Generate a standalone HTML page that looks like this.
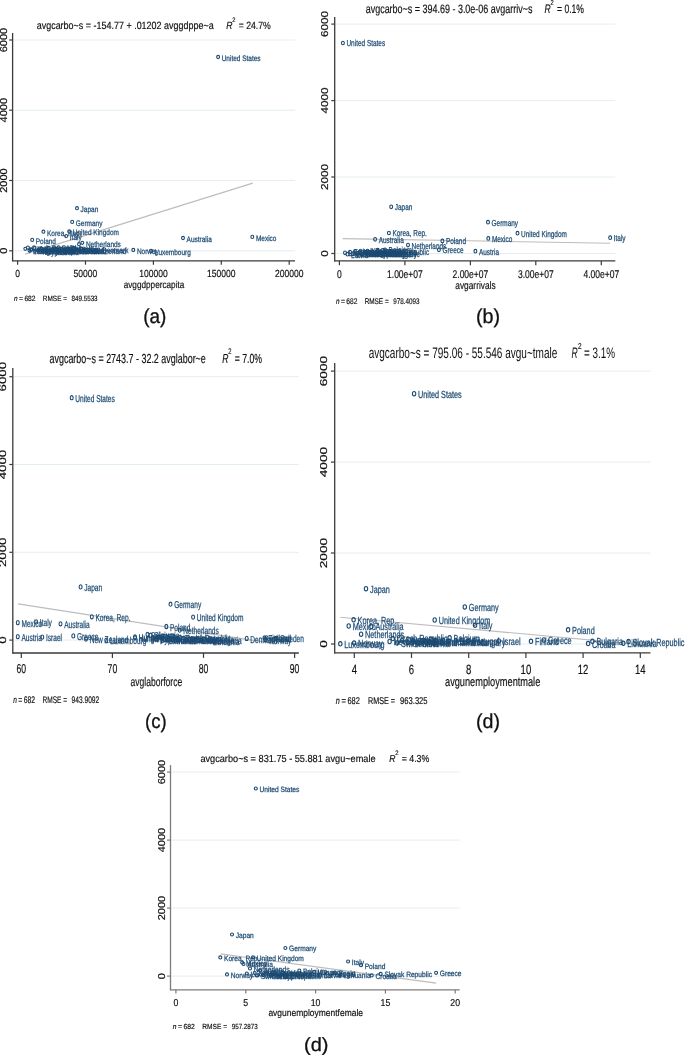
<!DOCTYPE html>
<html><head><meta charset="utf-8"><title>Scatter plots</title>
<style>
html,body{margin:0;padding:0;background:#fff;}
body{width:685px;height:1055px;overflow:hidden;}
svg{display:block;font-family:"Liberation Sans", sans-serif;filter:blur(0.35px);}
</style></head><body>
<svg width="685" height="1055" viewBox="0 0 685 1055" text-rendering="geometricPrecision">
<rect width="685" height="1055" fill="#fff"/>
<line x1="13.10" y1="40.00" x2="295.00" y2="40.00" stroke="#e4eef0" stroke-width="1"/>
<line x1="13.10" y1="110.20" x2="295.00" y2="110.20" stroke="#e4eef0" stroke-width="1"/>
<line x1="13.10" y1="180.50" x2="295.00" y2="180.50" stroke="#e4eef0" stroke-width="1"/>
<line x1="13.10" y1="250.80" x2="295.00" y2="250.80" stroke="#e4eef0" stroke-width="1"/>
<line x1="25.20" y1="254.10" x2="252.80" y2="183.10" stroke="#bdbdbd" stroke-width="1.1"/>
<line x1="12.60" y1="33.00" x2="12.60" y2="261.30" stroke="#3a3a3a" stroke-width="1.3"/>
<line x1="12.10" y1="260.80" x2="295.00" y2="260.80" stroke="#3a3a3a" stroke-width="1.3"/>
<line x1="9.20" y1="40.00" x2="12.60" y2="40.00" stroke="#3a3a3a" stroke-width="1.2"/>
<text transform="translate(7.00,40.00) rotate(-90)" x="-12.25" y="0" font-size="10.0" fill="#111" stroke="#111" stroke-width="0.18" textLength="24.50" lengthAdjust="spacingAndGlyphs">6000</text>
<line x1="9.20" y1="110.20" x2="12.60" y2="110.20" stroke="#3a3a3a" stroke-width="1.2"/>
<text transform="translate(7.00,110.20) rotate(-90)" x="-12.25" y="0" font-size="10.0" fill="#111" stroke="#111" stroke-width="0.18" textLength="24.50" lengthAdjust="spacingAndGlyphs">4000</text>
<line x1="9.20" y1="180.50" x2="12.60" y2="180.50" stroke="#3a3a3a" stroke-width="1.2"/>
<text transform="translate(7.00,180.50) rotate(-90)" x="-12.25" y="0" font-size="10.0" fill="#111" stroke="#111" stroke-width="0.18" textLength="24.50" lengthAdjust="spacingAndGlyphs">2000</text>
<line x1="9.20" y1="250.80" x2="12.60" y2="250.80" stroke="#3a3a3a" stroke-width="1.2"/>
<text transform="translate(7.00,250.80) rotate(-90)" x="-3.06" y="0" font-size="10.0" fill="#111" stroke="#111" stroke-width="0.18" textLength="6.12" lengthAdjust="spacingAndGlyphs">0</text>
<line x1="17.60" y1="260.80" x2="17.60" y2="264.70" stroke="#3a3a3a" stroke-width="1.2"/>
<text x="15.22" y="277.30" font-size="10.3" fill="#111" textLength="4.75" lengthAdjust="spacingAndGlyphs" stroke="#111" stroke-width="0.18">0</text>
<line x1="85.50" y1="260.80" x2="85.50" y2="264.70" stroke="#3a3a3a" stroke-width="1.2"/>
<text x="73.61" y="277.30" font-size="10.3" fill="#111" textLength="23.77" lengthAdjust="spacingAndGlyphs" stroke="#111" stroke-width="0.18">50000</text>
<line x1="153.40" y1="260.80" x2="153.40" y2="264.70" stroke="#3a3a3a" stroke-width="1.2"/>
<text x="139.14" y="277.30" font-size="10.3" fill="#111" textLength="28.53" lengthAdjust="spacingAndGlyphs" stroke="#111" stroke-width="0.18">100000</text>
<line x1="221.30" y1="260.80" x2="221.30" y2="264.70" stroke="#3a3a3a" stroke-width="1.2"/>
<text x="207.04" y="277.30" font-size="10.3" fill="#111" textLength="28.53" lengthAdjust="spacingAndGlyphs" stroke="#111" stroke-width="0.18">150000</text>
<line x1="289.20" y1="260.80" x2="289.20" y2="264.70" stroke="#3a3a3a" stroke-width="1.2"/>
<text x="274.94" y="277.30" font-size="10.3" fill="#111" textLength="28.53" lengthAdjust="spacingAndGlyphs" stroke="#111" stroke-width="0.18">200000</text>
<text x="123.70" y="287.60" font-size="10.0" fill="#111" textLength="60.60" lengthAdjust="spacingAndGlyphs" stroke="#111" stroke-width="0.18">avggdppercapita</text>
<text x="14.00" y="301.20" font-size="7.6" fill="#111" font-style="italic" textLength="3.60" lengthAdjust="spacingAndGlyphs" stroke="#111" stroke-width="0.18">n</text>
<text x="19.00" y="301.20" font-size="7.6" fill="#111" textLength="4.00" lengthAdjust="spacingAndGlyphs" stroke="#111" stroke-width="0.18">=</text>
<text x="24.40" y="301.20" font-size="7.6" fill="#111" textLength="11.10" lengthAdjust="spacingAndGlyphs" stroke="#111" stroke-width="0.18">682</text>
<text x="42.80" y="301.20" font-size="7.6" fill="#111" textLength="24.20" lengthAdjust="spacingAndGlyphs" stroke="#111" stroke-width="0.18">RMSE =</text>
<text x="71.50" y="301.20" font-size="7.6" fill="#111" textLength="26.10" lengthAdjust="spacingAndGlyphs" stroke="#111" stroke-width="0.18">849.5533</text>
<text x="36.70" y="29.40" font-size="10.5" fill="#111" textLength="177.00" lengthAdjust="spacingAndGlyphs" stroke="#111" stroke-width="0.18">avgcarbo~s = -154.77 + .01202 avggdppe~a</text>
<text x="226.20" y="29.40" font-size="10.5" fill="#111" font-style="italic" textLength="6.20" lengthAdjust="spacingAndGlyphs" stroke="#111" stroke-width="0.18">R</text>
<text x="232.20" y="22.40" font-size="6.6" fill="#111" textLength="3.20" lengthAdjust="spacingAndGlyphs" stroke="#111" stroke-width="0.18">2</text>
<text x="238.70" y="29.40" font-size="10.5" fill="#111" textLength="32.00" lengthAdjust="spacingAndGlyphs" stroke="#111" stroke-width="0.18">= 24.7%</text>
<text x="143.20" y="322.80" font-size="20" fill="#111" textLength="23.20" lengthAdjust="spacingAndGlyphs" stroke="#111" stroke-width="0.3">(a)</text>
<ellipse cx="218.10" cy="57.00" rx="1.45" ry="1.60" fill="none" stroke="#1c4a72" stroke-width="1.1"/>
<text x="221.70" y="60.82" font-size="8.0" fill="#1c4a72" textLength="38.90" lengthAdjust="spacingAndGlyphs" stroke="#1c4a72" stroke-width="0.25">United States</text>
<ellipse cx="77.00" cy="208.20" rx="1.45" ry="1.60" fill="none" stroke="#1c4a72" stroke-width="1.1"/>
<text x="80.60" y="212.02" font-size="8.0" fill="#1c4a72" textLength="17.66" lengthAdjust="spacingAndGlyphs" stroke="#1c4a72" stroke-width="0.25">Japan</text>
<ellipse cx="72.20" cy="221.90" rx="1.45" ry="1.60" fill="none" stroke="#1c4a72" stroke-width="1.1"/>
<text x="75.80" y="225.72" font-size="8.0" fill="#1c4a72" textLength="26.65" lengthAdjust="spacingAndGlyphs" stroke="#1c4a72" stroke-width="0.25">Germany</text>
<ellipse cx="43.40" cy="231.70" rx="1.45" ry="1.60" fill="none" stroke="#1c4a72" stroke-width="1.1"/>
<text x="47.00" y="235.52" font-size="8.0" fill="#1c4a72" textLength="34.58" lengthAdjust="spacingAndGlyphs" stroke="#1c4a72" stroke-width="0.25">Korea, Rep.</text>
<ellipse cx="69.20" cy="231.40" rx="1.45" ry="1.60" fill="none" stroke="#1c4a72" stroke-width="1.1"/>
<text x="72.80" y="235.22" font-size="8.0" fill="#1c4a72" textLength="46.11" lengthAdjust="spacingAndGlyphs" stroke="#1c4a72" stroke-width="0.25">United Kingdom</text>
<ellipse cx="66.20" cy="236.10" rx="1.45" ry="1.60" fill="none" stroke="#1c4a72" stroke-width="1.1"/>
<text x="69.80" y="239.92" font-size="8.0" fill="#1c4a72" textLength="11.88" lengthAdjust="spacingAndGlyphs" stroke="#1c4a72" stroke-width="0.25">Italy</text>
<ellipse cx="32.20" cy="239.90" rx="1.45" ry="1.60" fill="none" stroke="#1c4a72" stroke-width="1.1"/>
<text x="35.80" y="243.72" font-size="8.0" fill="#1c4a72" textLength="20.18" lengthAdjust="spacingAndGlyphs" stroke="#1c4a72" stroke-width="0.25">Poland</text>
<ellipse cx="82.30" cy="242.80" rx="1.45" ry="1.60" fill="none" stroke="#1c4a72" stroke-width="1.1"/>
<text x="85.90" y="246.62" font-size="8.0" fill="#1c4a72" textLength="34.94" lengthAdjust="spacingAndGlyphs" stroke="#1c4a72" stroke-width="0.25">Netherlands</text>
<ellipse cx="183.00" cy="238.00" rx="1.45" ry="1.60" fill="none" stroke="#1c4a72" stroke-width="1.1"/>
<text x="186.60" y="241.82" font-size="8.0" fill="#1c4a72" textLength="25.21" lengthAdjust="spacingAndGlyphs" stroke="#1c4a72" stroke-width="0.25">Australia</text>
<ellipse cx="252.30" cy="236.90" rx="1.45" ry="1.60" fill="none" stroke="#1c4a72" stroke-width="1.1"/>
<text x="255.90" y="240.72" font-size="8.0" fill="#1c4a72" textLength="20.53" lengthAdjust="spacingAndGlyphs" stroke="#1c4a72" stroke-width="0.25">Mexico</text>
<ellipse cx="133.30" cy="250.00" rx="1.45" ry="1.60" fill="none" stroke="#1c4a72" stroke-width="1.1"/>
<text x="136.90" y="253.82" font-size="8.0" fill="#1c4a72" textLength="21.97" lengthAdjust="spacingAndGlyphs" stroke="#1c4a72" stroke-width="0.25">Norway</text>
<ellipse cx="151.20" cy="251.00" rx="1.45" ry="1.60" fill="none" stroke="#1c4a72" stroke-width="1.1"/>
<text x="154.80" y="254.82" font-size="8.0" fill="#1c4a72" textLength="36.02" lengthAdjust="spacingAndGlyphs" stroke="#1c4a72" stroke-width="0.25">Luxembourg</text>
<ellipse cx="25.30" cy="248.80" rx="1.45" ry="1.60" fill="none" stroke="#1c4a72" stroke-width="1.1"/>
<text x="28.90" y="252.62" font-size="8.0" fill="#1c4a72" textLength="24.14" lengthAdjust="spacingAndGlyphs" stroke="#1c4a72" stroke-width="0.25">Portugal</text>
<ellipse cx="27.90" cy="247.60" rx="1.45" ry="1.60" fill="none" stroke="#1c4a72" stroke-width="1.1"/>
<text x="31.50" y="251.42" font-size="8.0" fill="#1c4a72" textLength="45.38" lengthAdjust="spacingAndGlyphs" stroke="#1c4a72" stroke-width="0.25">Czech Republic</text>
<ellipse cx="31.00" cy="249.80" rx="1.45" ry="1.60" fill="none" stroke="#1c4a72" stroke-width="1.1"/>
<text x="34.60" y="253.62" font-size="8.0" fill="#1c4a72" textLength="24.49" lengthAdjust="spacingAndGlyphs" stroke="#1c4a72" stroke-width="0.25">Hungary</text>
<ellipse cx="34.50" cy="248.20" rx="1.45" ry="1.60" fill="none" stroke="#1c4a72" stroke-width="1.1"/>
<text x="38.10" y="252.02" font-size="8.0" fill="#1c4a72" textLength="21.25" lengthAdjust="spacingAndGlyphs" stroke="#1c4a72" stroke-width="0.25">Greece</text>
<ellipse cx="38.00" cy="250.20" rx="1.45" ry="1.60" fill="none" stroke="#1c4a72" stroke-width="1.1"/>
<text x="41.60" y="254.02" font-size="8.0" fill="#1c4a72" textLength="46.46" lengthAdjust="spacingAndGlyphs" stroke="#1c4a72" stroke-width="0.25">Slovak Republic</text>
<ellipse cx="41.50" cy="248.60" rx="1.45" ry="1.60" fill="none" stroke="#1c4a72" stroke-width="1.1"/>
<text x="45.10" y="252.42" font-size="8.0" fill="#1c4a72" textLength="21.61" lengthAdjust="spacingAndGlyphs" stroke="#1c4a72" stroke-width="0.25">Estonia</text>
<ellipse cx="45.00" cy="250.50" rx="1.45" ry="1.60" fill="none" stroke="#1c4a72" stroke-width="1.1"/>
<text x="48.60" y="254.32" font-size="8.0" fill="#1c4a72" textLength="26.30" lengthAdjust="spacingAndGlyphs" stroke="#1c4a72" stroke-width="0.25">Lithuania</text>
<ellipse cx="48.50" cy="247.80" rx="1.45" ry="1.60" fill="none" stroke="#1c4a72" stroke-width="1.1"/>
<text x="52.10" y="251.62" font-size="8.0" fill="#1c4a72" textLength="24.86" lengthAdjust="spacingAndGlyphs" stroke="#1c4a72" stroke-width="0.25">Slovenia</text>
<ellipse cx="52.00" cy="249.80" rx="1.45" ry="1.60" fill="none" stroke="#1c4a72" stroke-width="1.1"/>
<text x="55.60" y="253.62" font-size="8.0" fill="#1c4a72" textLength="15.85" lengthAdjust="spacingAndGlyphs" stroke="#1c4a72" stroke-width="0.25">Israel</text>
<ellipse cx="55.50" cy="249.00" rx="1.45" ry="1.60" fill="none" stroke="#1c4a72" stroke-width="1.1"/>
<text x="59.10" y="252.82" font-size="8.0" fill="#1c4a72" textLength="16.57" lengthAdjust="spacingAndGlyphs" stroke="#1c4a72" stroke-width="0.25">Spain</text>
<ellipse cx="58.50" cy="247.40" rx="1.45" ry="1.60" fill="none" stroke="#1c4a72" stroke-width="1.1"/>
<text x="62.10" y="251.22" font-size="8.0" fill="#1c4a72" textLength="23.41" lengthAdjust="spacingAndGlyphs" stroke="#1c4a72" stroke-width="0.25">Belgium</text>
<ellipse cx="61.50" cy="249.60" rx="1.45" ry="1.60" fill="none" stroke="#1c4a72" stroke-width="1.1"/>
<text x="65.10" y="253.42" font-size="8.0" fill="#1c4a72" textLength="20.17" lengthAdjust="spacingAndGlyphs" stroke="#1c4a72" stroke-width="0.25">France</text>
<ellipse cx="64.50" cy="250.40" rx="1.45" ry="1.60" fill="none" stroke="#1c4a72" stroke-width="1.1"/>
<text x="68.10" y="254.22" font-size="8.0" fill="#1c4a72" textLength="38.18" lengthAdjust="spacingAndGlyphs" stroke="#1c4a72" stroke-width="0.25">New Zealand</text>
<ellipse cx="67.50" cy="248.60" rx="1.45" ry="1.60" fill="none" stroke="#1c4a72" stroke-width="1.1"/>
<text x="71.10" y="252.42" font-size="8.0" fill="#1c4a72" textLength="21.25" lengthAdjust="spacingAndGlyphs" stroke="#1c4a72" stroke-width="0.25">Finland</text>
<ellipse cx="70.50" cy="249.80" rx="1.45" ry="1.60" fill="none" stroke="#1c4a72" stroke-width="1.1"/>
<text x="74.10" y="253.62" font-size="8.0" fill="#1c4a72" textLength="22.70" lengthAdjust="spacingAndGlyphs" stroke="#1c4a72" stroke-width="0.25">Canada</text>
<ellipse cx="74.00" cy="248.20" rx="1.45" ry="1.60" fill="none" stroke="#1c4a72" stroke-width="1.1"/>
<text x="77.60" y="252.02" font-size="8.0" fill="#1c4a72" textLength="20.17" lengthAdjust="spacingAndGlyphs" stroke="#1c4a72" stroke-width="0.25">Austria</text>
<ellipse cx="77.00" cy="250.00" rx="1.45" ry="1.60" fill="none" stroke="#1c4a72" stroke-width="1.1"/>
<text x="80.60" y="253.82" font-size="8.0" fill="#1c4a72" textLength="23.42" lengthAdjust="spacingAndGlyphs" stroke="#1c4a72" stroke-width="0.25">Sweden</text>
<ellipse cx="79.00" cy="244.20" rx="1.45" ry="1.60" fill="none" stroke="#1c4a72" stroke-width="1.1"/>
<ellipse cx="81.00" cy="248.80" rx="1.45" ry="1.60" fill="none" stroke="#1c4a72" stroke-width="1.1"/>
<text x="84.60" y="252.62" font-size="8.0" fill="#1c4a72" textLength="19.81" lengthAdjust="spacingAndGlyphs" stroke="#1c4a72" stroke-width="0.25">Ireland</text>
<ellipse cx="89.00" cy="249.80" rx="1.45" ry="1.60" fill="none" stroke="#1c4a72" stroke-width="1.1"/>
<text x="92.60" y="253.62" font-size="8.0" fill="#1c4a72" textLength="33.50" lengthAdjust="spacingAndGlyphs" stroke="#1c4a72" stroke-width="0.25">Switzerland</text>
<ellipse cx="98.50" cy="249.60" rx="1.45" ry="1.60" fill="none" stroke="#1c4a72" stroke-width="1.1"/>
<text x="102.10" y="253.42" font-size="8.0" fill="#1c4a72" textLength="26.29" lengthAdjust="spacingAndGlyphs" stroke="#1c4a72" stroke-width="0.25">Denmark</text>
<ellipse cx="29.50" cy="250.60" rx="1.45" ry="1.60" fill="none" stroke="#1c4a72" stroke-width="1.1"/>
<text x="33.10" y="254.42" font-size="8.0" fill="#1c4a72" textLength="17.29" lengthAdjust="spacingAndGlyphs" stroke="#1c4a72" stroke-width="0.25">Latvia</text>
<ellipse cx="43.00" cy="250.80" rx="1.45" ry="1.60" fill="none" stroke="#1c4a72" stroke-width="1.1"/>
<text x="46.60" y="254.62" font-size="8.0" fill="#1c4a72" textLength="20.53" lengthAdjust="spacingAndGlyphs" stroke="#1c4a72" stroke-width="0.25">Cyprus</text>
<ellipse cx="54.00" cy="250.80" rx="1.45" ry="1.60" fill="none" stroke="#1c4a72" stroke-width="1.1"/>
<text x="57.60" y="254.62" font-size="8.0" fill="#1c4a72" textLength="20.89" lengthAdjust="spacingAndGlyphs" stroke="#1c4a72" stroke-width="0.25">Croatia</text>
<line x1="335.20" y1="24.10" x2="615.30" y2="24.10" stroke="#e4eef0" stroke-width="1"/>
<line x1="335.20" y1="100.60" x2="615.30" y2="100.60" stroke="#e4eef0" stroke-width="1"/>
<line x1="335.20" y1="177.00" x2="615.30" y2="177.00" stroke="#e4eef0" stroke-width="1"/>
<line x1="335.20" y1="253.50" x2="615.30" y2="253.50" stroke="#e4eef0" stroke-width="1"/>
<line x1="342.70" y1="238.60" x2="610.20" y2="243.30" stroke="#bdbdbd" stroke-width="1.1"/>
<line x1="334.70" y1="17.00" x2="334.70" y2="261.40" stroke="#3a3a3a" stroke-width="1.3"/>
<line x1="334.20" y1="260.90" x2="615.30" y2="260.90" stroke="#3a3a3a" stroke-width="1.3"/>
<line x1="331.32" y1="24.10" x2="334.70" y2="24.10" stroke="#3a3a3a" stroke-width="1.2"/>
<text transform="translate(328.00,24.10) rotate(-90)" x="-13.00" y="0" font-size="10.0" fill="#111" stroke="#111" stroke-width="0.18" textLength="26.00" lengthAdjust="spacingAndGlyphs">6000</text>
<line x1="331.32" y1="100.60" x2="334.70" y2="100.60" stroke="#3a3a3a" stroke-width="1.2"/>
<text transform="translate(328.00,100.60) rotate(-90)" x="-13.00" y="0" font-size="10.0" fill="#111" stroke="#111" stroke-width="0.18" textLength="26.00" lengthAdjust="spacingAndGlyphs">4000</text>
<line x1="331.32" y1="177.00" x2="334.70" y2="177.00" stroke="#3a3a3a" stroke-width="1.2"/>
<text transform="translate(328.00,177.00) rotate(-90)" x="-13.00" y="0" font-size="10.0" fill="#111" stroke="#111" stroke-width="0.18" textLength="26.00" lengthAdjust="spacingAndGlyphs">2000</text>
<line x1="331.32" y1="253.50" x2="334.70" y2="253.50" stroke="#3a3a3a" stroke-width="1.2"/>
<text transform="translate(328.00,253.50) rotate(-90)" x="-3.25" y="0" font-size="10.0" fill="#111" stroke="#111" stroke-width="0.18" textLength="6.50" lengthAdjust="spacingAndGlyphs">0</text>
<line x1="339.40" y1="260.90" x2="339.40" y2="265.14" stroke="#3a3a3a" stroke-width="1.2"/>
<text x="337.04" y="277.80" font-size="11.21" fill="#111" textLength="4.73" lengthAdjust="spacingAndGlyphs" stroke="#111" stroke-width="0.18">0</text>
<line x1="404.90" y1="260.90" x2="404.90" y2="265.14" stroke="#3a3a3a" stroke-width="1.2"/>
<text x="387.06" y="277.80" font-size="11.21" fill="#111" textLength="35.68" lengthAdjust="spacingAndGlyphs" stroke="#111" stroke-width="0.18">1.00e+07</text>
<line x1="470.40" y1="260.90" x2="470.40" y2="265.14" stroke="#3a3a3a" stroke-width="1.2"/>
<text x="452.56" y="277.80" font-size="11.21" fill="#111" textLength="35.68" lengthAdjust="spacingAndGlyphs" stroke="#111" stroke-width="0.18">2.00e+07</text>
<line x1="535.80" y1="260.90" x2="535.80" y2="265.14" stroke="#3a3a3a" stroke-width="1.2"/>
<text x="517.96" y="277.80" font-size="11.21" fill="#111" textLength="35.68" lengthAdjust="spacingAndGlyphs" stroke="#111" stroke-width="0.18">3.00e+07</text>
<line x1="601.30" y1="260.90" x2="601.30" y2="265.14" stroke="#3a3a3a" stroke-width="1.2"/>
<text x="583.46" y="277.80" font-size="11.21" fill="#111" textLength="35.68" lengthAdjust="spacingAndGlyphs" stroke="#111" stroke-width="0.18">4.00e+07</text>
<text x="455.30" y="288.80" font-size="10.88" fill="#111" textLength="40.30" lengthAdjust="spacingAndGlyphs" stroke="#111" stroke-width="0.18">avgarrivals</text>
<text x="336.00" y="303.50" font-size="8.27" fill="#111" font-style="italic" textLength="3.58" lengthAdjust="spacingAndGlyphs" stroke="#111" stroke-width="0.18">n</text>
<text x="340.97" y="303.50" font-size="8.27" fill="#111" textLength="3.98" lengthAdjust="spacingAndGlyphs" stroke="#111" stroke-width="0.18">=</text>
<text x="346.34" y="303.50" font-size="8.27" fill="#111" textLength="11.03" lengthAdjust="spacingAndGlyphs" stroke="#111" stroke-width="0.18">682</text>
<text x="364.63" y="303.50" font-size="8.27" fill="#111" textLength="24.05" lengthAdjust="spacingAndGlyphs" stroke="#111" stroke-width="0.18">RMSE =</text>
<text x="393.15" y="303.50" font-size="8.27" fill="#111" textLength="26.35" lengthAdjust="spacingAndGlyphs" stroke="#111" stroke-width="0.18">978.4093</text>
<text x="365.70" y="12.70" font-size="12.2" fill="#111" textLength="166.70" lengthAdjust="spacingAndGlyphs" stroke="#111" stroke-width="0.18">avgcarbo~s = 394.69 - 3.0e-06 avgarriv~s</text>
<text x="544.50" y="12.70" font-size="12.2" fill="#111" font-style="italic" textLength="6.20" lengthAdjust="spacingAndGlyphs" stroke="#111" stroke-width="0.18">R</text>
<text x="550.46" y="5.08" font-size="7.18" fill="#111" textLength="3.18" lengthAdjust="spacingAndGlyphs" stroke="#111" stroke-width="0.18">2</text>
<text x="557.00" y="12.70" font-size="12.2" fill="#111" textLength="27.00" lengthAdjust="spacingAndGlyphs" stroke="#111" stroke-width="0.18">= 0.1%</text>
<text x="476.00" y="323.00" font-size="20" fill="#111" textLength="24.10" lengthAdjust="spacingAndGlyphs" stroke="#111" stroke-width="0.3">(b)</text>
<ellipse cx="342.90" cy="43.00" rx="1.44" ry="1.78" fill="none" stroke="#1c4a72" stroke-width="1.1"/>
<text x="346.48" y="46.47" font-size="8.7" fill="#1c4a72" textLength="38.67" lengthAdjust="spacingAndGlyphs" stroke="#1c4a72" stroke-width="0.25">United States</text>
<ellipse cx="391.20" cy="206.80" rx="1.44" ry="1.78" fill="none" stroke="#1c4a72" stroke-width="1.1"/>
<text x="394.78" y="210.27" font-size="8.7" fill="#1c4a72" textLength="17.55" lengthAdjust="spacingAndGlyphs" stroke="#1c4a72" stroke-width="0.25">Japan</text>
<ellipse cx="388.90" cy="233.00" rx="1.44" ry="1.78" fill="none" stroke="#1c4a72" stroke-width="1.1"/>
<text x="392.48" y="236.47" font-size="8.7" fill="#1c4a72" textLength="34.37" lengthAdjust="spacingAndGlyphs" stroke="#1c4a72" stroke-width="0.25">Korea, Rep.</text>
<ellipse cx="375.10" cy="239.30" rx="1.44" ry="1.78" fill="none" stroke="#1c4a72" stroke-width="1.1"/>
<text x="378.68" y="242.77" font-size="8.7" fill="#1c4a72" textLength="25.06" lengthAdjust="spacingAndGlyphs" stroke="#1c4a72" stroke-width="0.25">Australia</text>
<ellipse cx="408.00" cy="245.10" rx="1.44" ry="1.78" fill="none" stroke="#1c4a72" stroke-width="1.1"/>
<text x="411.58" y="248.57" font-size="8.7" fill="#1c4a72" textLength="34.73" lengthAdjust="spacingAndGlyphs" stroke="#1c4a72" stroke-width="0.25">Netherlands</text>
<ellipse cx="442.40" cy="240.90" rx="1.44" ry="1.78" fill="none" stroke="#1c4a72" stroke-width="1.1"/>
<text x="445.98" y="244.37" font-size="8.7" fill="#1c4a72" textLength="20.06" lengthAdjust="spacingAndGlyphs" stroke="#1c4a72" stroke-width="0.25">Poland</text>
<ellipse cx="438.90" cy="249.80" rx="1.44" ry="1.78" fill="none" stroke="#1c4a72" stroke-width="1.1"/>
<text x="442.48" y="253.27" font-size="8.7" fill="#1c4a72" textLength="21.12" lengthAdjust="spacingAndGlyphs" stroke="#1c4a72" stroke-width="0.25">Greece</text>
<ellipse cx="475.40" cy="251.20" rx="1.44" ry="1.78" fill="none" stroke="#1c4a72" stroke-width="1.1"/>
<text x="478.98" y="254.67" font-size="8.7" fill="#1c4a72" textLength="20.05" lengthAdjust="spacingAndGlyphs" stroke="#1c4a72" stroke-width="0.25">Austria</text>
<ellipse cx="488.00" cy="222.20" rx="1.44" ry="1.78" fill="none" stroke="#1c4a72" stroke-width="1.1"/>
<text x="491.58" y="225.67" font-size="8.7" fill="#1c4a72" textLength="26.49" lengthAdjust="spacingAndGlyphs" stroke="#1c4a72" stroke-width="0.25">Germany</text>
<ellipse cx="488.30" cy="238.40" rx="1.44" ry="1.78" fill="none" stroke="#1c4a72" stroke-width="1.1"/>
<text x="491.88" y="241.87" font-size="8.7" fill="#1c4a72" textLength="20.40" lengthAdjust="spacingAndGlyphs" stroke="#1c4a72" stroke-width="0.25">Mexico</text>
<ellipse cx="517.50" cy="233.20" rx="1.44" ry="1.78" fill="none" stroke="#1c4a72" stroke-width="1.1"/>
<text x="521.08" y="236.67" font-size="8.7" fill="#1c4a72" textLength="45.83" lengthAdjust="spacingAndGlyphs" stroke="#1c4a72" stroke-width="0.25">United Kingdom</text>
<ellipse cx="610.20" cy="237.70" rx="1.44" ry="1.78" fill="none" stroke="#1c4a72" stroke-width="1.1"/>
<text x="613.78" y="241.17" font-size="8.7" fill="#1c4a72" textLength="11.81" lengthAdjust="spacingAndGlyphs" stroke="#1c4a72" stroke-width="0.25">Italy</text>
<ellipse cx="345.00" cy="252.80" rx="1.44" ry="1.78" fill="none" stroke="#1c4a72" stroke-width="1.1"/>
<text x="348.58" y="256.27" font-size="8.7" fill="#1c4a72" textLength="35.81" lengthAdjust="spacingAndGlyphs" stroke="#1c4a72" stroke-width="0.25">Luxembourg</text>
<ellipse cx="347.50" cy="254.20" rx="1.44" ry="1.78" fill="none" stroke="#1c4a72" stroke-width="1.1"/>
<text x="351.08" y="257.67" font-size="8.7" fill="#1c4a72" textLength="17.19" lengthAdjust="spacingAndGlyphs" stroke="#1c4a72" stroke-width="0.25">Latvia</text>
<ellipse cx="350.00" cy="252.00" rx="1.44" ry="1.78" fill="none" stroke="#1c4a72" stroke-width="1.1"/>
<text x="353.58" y="255.47" font-size="8.7" fill="#1c4a72" textLength="21.48" lengthAdjust="spacingAndGlyphs" stroke="#1c4a72" stroke-width="0.25">Estonia</text>
<ellipse cx="352.50" cy="253.80" rx="1.44" ry="1.78" fill="none" stroke="#1c4a72" stroke-width="1.1"/>
<text x="356.08" y="257.27" font-size="8.7" fill="#1c4a72" textLength="26.15" lengthAdjust="spacingAndGlyphs" stroke="#1c4a72" stroke-width="0.25">Lithuania</text>
<ellipse cx="355.00" cy="251.50" rx="1.44" ry="1.78" fill="none" stroke="#1c4a72" stroke-width="1.1"/>
<text x="358.58" y="254.97" font-size="8.7" fill="#1c4a72" textLength="24.71" lengthAdjust="spacingAndGlyphs" stroke="#1c4a72" stroke-width="0.25">Slovenia</text>
<ellipse cx="357.50" cy="253.20" rx="1.44" ry="1.78" fill="none" stroke="#1c4a72" stroke-width="1.1"/>
<text x="361.08" y="256.67" font-size="8.7" fill="#1c4a72" textLength="20.77" lengthAdjust="spacingAndGlyphs" stroke="#1c4a72" stroke-width="0.25">Iceland</text>
<ellipse cx="360.00" cy="251.80" rx="1.44" ry="1.78" fill="none" stroke="#1c4a72" stroke-width="1.1"/>
<text x="363.58" y="255.27" font-size="8.7" fill="#1c4a72" textLength="15.75" lengthAdjust="spacingAndGlyphs" stroke="#1c4a72" stroke-width="0.25">Israel</text>
<ellipse cx="362.50" cy="254.00" rx="1.44" ry="1.78" fill="none" stroke="#1c4a72" stroke-width="1.1"/>
<text x="366.08" y="257.47" font-size="8.7" fill="#1c4a72" textLength="37.95" lengthAdjust="spacingAndGlyphs" stroke="#1c4a72" stroke-width="0.25">New Zealand</text>
<ellipse cx="365.00" cy="252.20" rx="1.44" ry="1.78" fill="none" stroke="#1c4a72" stroke-width="1.1"/>
<text x="368.58" y="255.67" font-size="8.7" fill="#1c4a72" textLength="21.13" lengthAdjust="spacingAndGlyphs" stroke="#1c4a72" stroke-width="0.25">Finland</text>
<ellipse cx="367.50" cy="251.00" rx="1.44" ry="1.78" fill="none" stroke="#1c4a72" stroke-width="1.1"/>
<text x="371.08" y="254.47" font-size="8.7" fill="#1c4a72" textLength="21.83" lengthAdjust="spacingAndGlyphs" stroke="#1c4a72" stroke-width="0.25">Norway</text>
<ellipse cx="370.00" cy="253.20" rx="1.44" ry="1.78" fill="none" stroke="#1c4a72" stroke-width="1.1"/>
<text x="373.58" y="256.67" font-size="8.7" fill="#1c4a72" textLength="46.19" lengthAdjust="spacingAndGlyphs" stroke="#1c4a72" stroke-width="0.25">Slovak Republic</text>
<ellipse cx="372.50" cy="251.80" rx="1.44" ry="1.78" fill="none" stroke="#1c4a72" stroke-width="1.1"/>
<text x="376.08" y="255.27" font-size="8.7" fill="#1c4a72" textLength="19.69" lengthAdjust="spacingAndGlyphs" stroke="#1c4a72" stroke-width="0.25">Ireland</text>
<ellipse cx="375.00" cy="253.60" rx="1.44" ry="1.78" fill="none" stroke="#1c4a72" stroke-width="1.1"/>
<text x="378.58" y="257.07" font-size="8.7" fill="#1c4a72" textLength="20.40" lengthAdjust="spacingAndGlyphs" stroke="#1c4a72" stroke-width="0.25">Cyprus</text>
<ellipse cx="377.50" cy="250.20" rx="1.44" ry="1.78" fill="none" stroke="#1c4a72" stroke-width="1.1"/>
<text x="381.08" y="253.67" font-size="8.7" fill="#1c4a72" textLength="26.13" lengthAdjust="spacingAndGlyphs" stroke="#1c4a72" stroke-width="0.25">Denmark</text>
<ellipse cx="380.00" cy="252.20" rx="1.44" ry="1.78" fill="none" stroke="#1c4a72" stroke-width="1.1"/>
<text x="383.58" y="255.67" font-size="8.7" fill="#1c4a72" textLength="23.28" lengthAdjust="spacingAndGlyphs" stroke="#1c4a72" stroke-width="0.25">Sweden</text>
<ellipse cx="382.50" cy="254.00" rx="1.44" ry="1.78" fill="none" stroke="#1c4a72" stroke-width="1.1"/>
<text x="386.08" y="257.47" font-size="8.7" fill="#1c4a72" textLength="23.99" lengthAdjust="spacingAndGlyphs" stroke="#1c4a72" stroke-width="0.25">Portugal</text>
<ellipse cx="385.00" cy="249.80" rx="1.44" ry="1.78" fill="none" stroke="#1c4a72" stroke-width="1.1"/>
<text x="388.58" y="253.27" font-size="8.7" fill="#1c4a72" textLength="23.27" lengthAdjust="spacingAndGlyphs" stroke="#1c4a72" stroke-width="0.25">Belgium</text>
<ellipse cx="380.50" cy="252.00" rx="1.44" ry="1.78" fill="none" stroke="#1c4a72" stroke-width="1.1"/>
<text x="384.08" y="255.47" font-size="8.7" fill="#1c4a72" textLength="45.11" lengthAdjust="spacingAndGlyphs" stroke="#1c4a72" stroke-width="0.25">Czech Republic</text>
<ellipse cx="389.00" cy="253.60" rx="1.44" ry="1.78" fill="none" stroke="#1c4a72" stroke-width="1.1"/>
<text x="392.58" y="257.07" font-size="8.7" fill="#1c4a72" textLength="24.35" lengthAdjust="spacingAndGlyphs" stroke="#1c4a72" stroke-width="0.25">Hungary</text>
<ellipse cx="391.00" cy="251.20" rx="1.44" ry="1.78" fill="none" stroke="#1c4a72" stroke-width="1.1"/>
<text x="394.58" y="254.67" font-size="8.7" fill="#1c4a72" textLength="22.56" lengthAdjust="spacingAndGlyphs" stroke="#1c4a72" stroke-width="0.25">Canada</text>
<line x1="13.30" y1="376.70" x2="298.80" y2="376.70" stroke="#e4eef0" stroke-width="1"/>
<line x1="13.30" y1="464.50" x2="298.80" y2="464.50" stroke="#e4eef0" stroke-width="1"/>
<line x1="13.30" y1="552.30" x2="298.80" y2="552.30" stroke="#e4eef0" stroke-width="1"/>
<line x1="13.30" y1="640.10" x2="298.80" y2="640.10" stroke="#e4eef0" stroke-width="1"/>
<line x1="18.00" y1="603.90" x2="276.00" y2="643.90" stroke="#bdbdbd" stroke-width="1.1"/>
<line x1="12.80" y1="368.00" x2="12.80" y2="653.50" stroke="#3a3a3a" stroke-width="1.3"/>
<line x1="12.30" y1="653.00" x2="298.80" y2="653.00" stroke="#3a3a3a" stroke-width="1.3"/>
<line x1="9.35" y1="376.70" x2="12.80" y2="376.70" stroke="#3a3a3a" stroke-width="1.2"/>
<text transform="translate(5.80,376.70) rotate(-90)" x="-14.75" y="0" font-size="10.0" fill="#111" stroke="#111" stroke-width="0.18" textLength="29.50" lengthAdjust="spacingAndGlyphs">6000</text>
<line x1="9.35" y1="464.50" x2="12.80" y2="464.50" stroke="#3a3a3a" stroke-width="1.2"/>
<text transform="translate(5.80,464.50) rotate(-90)" x="-14.75" y="0" font-size="10.0" fill="#111" stroke="#111" stroke-width="0.18" textLength="29.50" lengthAdjust="spacingAndGlyphs">4000</text>
<line x1="9.35" y1="552.30" x2="12.80" y2="552.30" stroke="#3a3a3a" stroke-width="1.2"/>
<text transform="translate(5.80,552.30) rotate(-90)" x="-14.75" y="0" font-size="10.0" fill="#111" stroke="#111" stroke-width="0.18" textLength="29.50" lengthAdjust="spacingAndGlyphs">2000</text>
<line x1="9.35" y1="640.10" x2="12.80" y2="640.10" stroke="#3a3a3a" stroke-width="1.2"/>
<text transform="translate(5.80,640.10) rotate(-90)" x="-3.69" y="0" font-size="10.0" fill="#111" stroke="#111" stroke-width="0.18" textLength="7.38" lengthAdjust="spacingAndGlyphs">0</text>
<line x1="21.30" y1="653.00" x2="21.30" y2="657.88" stroke="#3a3a3a" stroke-width="1.2"/>
<text x="16.48" y="673.40" font-size="12.88" fill="#111" textLength="9.64" lengthAdjust="spacingAndGlyphs" stroke="#111" stroke-width="0.18">60</text>
<line x1="112.40" y1="653.00" x2="112.40" y2="657.88" stroke="#3a3a3a" stroke-width="1.2"/>
<text x="107.58" y="673.40" font-size="12.88" fill="#111" textLength="9.64" lengthAdjust="spacingAndGlyphs" stroke="#111" stroke-width="0.18">70</text>
<line x1="203.50" y1="653.00" x2="203.50" y2="657.88" stroke="#3a3a3a" stroke-width="1.2"/>
<text x="198.68" y="673.40" font-size="12.88" fill="#111" textLength="9.64" lengthAdjust="spacingAndGlyphs" stroke="#111" stroke-width="0.18">80</text>
<line x1="294.60" y1="653.00" x2="294.60" y2="657.88" stroke="#3a3a3a" stroke-width="1.2"/>
<text x="289.78" y="673.40" font-size="12.88" fill="#111" textLength="9.64" lengthAdjust="spacingAndGlyphs" stroke="#111" stroke-width="0.18">90</text>
<text x="130.50" y="686.30" font-size="12.5" fill="#111" textLength="51.70" lengthAdjust="spacingAndGlyphs" stroke="#111" stroke-width="0.18">avglaborforce</text>
<text x="13.30" y="703.00" font-size="9.5" fill="#111" font-style="italic" textLength="3.65" lengthAdjust="spacingAndGlyphs" stroke="#111" stroke-width="0.18">n</text>
<text x="18.37" y="703.00" font-size="9.5" fill="#111" textLength="4.06" lengthAdjust="spacingAndGlyphs" stroke="#111" stroke-width="0.18">=</text>
<text x="23.85" y="703.00" font-size="9.5" fill="#111" textLength="11.26" lengthAdjust="spacingAndGlyphs" stroke="#111" stroke-width="0.18">682</text>
<text x="42.50" y="703.00" font-size="9.5" fill="#111" textLength="24.54" lengthAdjust="spacingAndGlyphs" stroke="#111" stroke-width="0.18">RMSE =</text>
<text x="71.61" y="703.00" font-size="9.5" fill="#111" textLength="27.59" lengthAdjust="spacingAndGlyphs" stroke="#111" stroke-width="0.18">943.9092</text>
<text x="49.50" y="362.90" font-size="13.12" fill="#111" textLength="156.30" lengthAdjust="spacingAndGlyphs" stroke="#111" stroke-width="0.18">avgcarbo~s = 2743.7 - 32.2 avglabor~e</text>
<text x="222.20" y="362.90" font-size="13.12" fill="#111" font-style="italic" textLength="6.20" lengthAdjust="spacingAndGlyphs" stroke="#111" stroke-width="0.18">R</text>
<text x="228.28" y="354.15" font-size="8.25" fill="#111" textLength="3.24" lengthAdjust="spacingAndGlyphs" stroke="#111" stroke-width="0.18">2</text>
<text x="234.70" y="362.90" font-size="13.12" fill="#111" textLength="27.30" lengthAdjust="spacingAndGlyphs" stroke="#111" stroke-width="0.18">= 7.0%</text>
<text x="145.00" y="727.50" font-size="20" fill="#111" textLength="21.70" lengthAdjust="spacingAndGlyphs" stroke="#111" stroke-width="0.3">(c)</text>
<ellipse cx="71.70" cy="397.70" rx="1.48" ry="2.12" fill="none" stroke="#1c4a72" stroke-width="1.1"/>
<text x="75.35" y="401.89" font-size="10.0" fill="#1c4a72" textLength="39.45" lengthAdjust="spacingAndGlyphs" stroke="#1c4a72" stroke-width="0.25">United States</text>
<ellipse cx="80.60" cy="586.90" rx="1.48" ry="2.12" fill="none" stroke="#1c4a72" stroke-width="1.1"/>
<text x="84.25" y="591.10" font-size="10.0" fill="#1c4a72" textLength="17.90" lengthAdjust="spacingAndGlyphs" stroke="#1c4a72" stroke-width="0.25">Japan</text>
<ellipse cx="91.80" cy="616.80" rx="1.48" ry="2.12" fill="none" stroke="#1c4a72" stroke-width="1.1"/>
<text x="95.45" y="621.00" font-size="10.0" fill="#1c4a72" textLength="35.06" lengthAdjust="spacingAndGlyphs" stroke="#1c4a72" stroke-width="0.25">Korea, Rep.</text>
<ellipse cx="17.80" cy="622.60" rx="1.48" ry="2.12" fill="none" stroke="#1c4a72" stroke-width="1.1"/>
<text x="21.45" y="626.80" font-size="10.0" fill="#1c4a72" textLength="20.81" lengthAdjust="spacingAndGlyphs" stroke="#1c4a72" stroke-width="0.25">Mexico</text>
<ellipse cx="36.20" cy="621.90" rx="1.48" ry="2.12" fill="none" stroke="#1c4a72" stroke-width="1.1"/>
<text x="39.85" y="626.10" font-size="10.0" fill="#1c4a72" textLength="12.05" lengthAdjust="spacingAndGlyphs" stroke="#1c4a72" stroke-width="0.25">Italy</text>
<ellipse cx="60.50" cy="623.80" rx="1.48" ry="2.12" fill="none" stroke="#1c4a72" stroke-width="1.1"/>
<text x="64.15" y="628.00" font-size="10.0" fill="#1c4a72" textLength="25.56" lengthAdjust="spacingAndGlyphs" stroke="#1c4a72" stroke-width="0.25">Australia</text>
<ellipse cx="17.80" cy="636.60" rx="1.48" ry="2.12" fill="none" stroke="#1c4a72" stroke-width="1.1"/>
<text x="21.45" y="640.80" font-size="10.0" fill="#1c4a72" textLength="20.45" lengthAdjust="spacingAndGlyphs" stroke="#1c4a72" stroke-width="0.25">Austria</text>
<ellipse cx="42.30" cy="637.10" rx="1.48" ry="2.12" fill="none" stroke="#1c4a72" stroke-width="1.1"/>
<text x="45.95" y="641.30" font-size="10.0" fill="#1c4a72" textLength="16.07" lengthAdjust="spacingAndGlyphs" stroke="#1c4a72" stroke-width="0.25">Israel</text>
<ellipse cx="73.30" cy="635.90" rx="1.48" ry="2.12" fill="none" stroke="#1c4a72" stroke-width="1.1"/>
<text x="76.95" y="640.10" font-size="10.0" fill="#1c4a72" textLength="21.55" lengthAdjust="spacingAndGlyphs" stroke="#1c4a72" stroke-width="0.25">Greece</text>
<ellipse cx="86.00" cy="639.00" rx="1.48" ry="2.12" fill="none" stroke="#1c4a72" stroke-width="1.1"/>
<text x="89.65" y="643.20" font-size="10.0" fill="#1c4a72" textLength="38.72" lengthAdjust="spacingAndGlyphs" stroke="#1c4a72" stroke-width="0.25">New Zealand</text>
<ellipse cx="106.30" cy="640.10" rx="1.48" ry="2.12" fill="none" stroke="#1c4a72" stroke-width="1.1"/>
<text x="109.95" y="644.30" font-size="10.0" fill="#1c4a72" textLength="36.53" lengthAdjust="spacingAndGlyphs" stroke="#1c4a72" stroke-width="0.25">Luxembourg</text>
<ellipse cx="135.00" cy="637.80" rx="1.48" ry="2.12" fill="none" stroke="#1c4a72" stroke-width="1.1"/>
<text x="138.65" y="642.00" font-size="10.0" fill="#1c4a72" textLength="24.84" lengthAdjust="spacingAndGlyphs" stroke="#1c4a72" stroke-width="0.25">Hungary</text>
<ellipse cx="170.50" cy="604.20" rx="1.48" ry="2.12" fill="none" stroke="#1c4a72" stroke-width="1.1"/>
<text x="174.15" y="608.40" font-size="10.0" fill="#1c4a72" textLength="27.02" lengthAdjust="spacingAndGlyphs" stroke="#1c4a72" stroke-width="0.25">Germany</text>
<ellipse cx="193.10" cy="617.10" rx="1.48" ry="2.12" fill="none" stroke="#1c4a72" stroke-width="1.1"/>
<text x="196.75" y="621.30" font-size="10.0" fill="#1c4a72" textLength="46.75" lengthAdjust="spacingAndGlyphs" stroke="#1c4a72" stroke-width="0.25">United Kingdom</text>
<ellipse cx="166.30" cy="626.50" rx="1.48" ry="2.12" fill="none" stroke="#1c4a72" stroke-width="1.1"/>
<text x="169.95" y="630.70" font-size="10.0" fill="#1c4a72" textLength="20.46" lengthAdjust="spacingAndGlyphs" stroke="#1c4a72" stroke-width="0.25">Poland</text>
<ellipse cx="179.70" cy="630.20" rx="1.48" ry="2.12" fill="none" stroke="#1c4a72" stroke-width="1.1"/>
<text x="183.35" y="634.40" font-size="10.0" fill="#1c4a72" textLength="35.43" lengthAdjust="spacingAndGlyphs" stroke="#1c4a72" stroke-width="0.25">Netherlands</text>
<ellipse cx="135.00" cy="637.00" rx="1.48" ry="2.12" fill="none" stroke="#1c4a72" stroke-width="1.1"/>
<text x="138.65" y="641.20" font-size="10.0" fill="#1c4a72" textLength="24.84" lengthAdjust="spacingAndGlyphs" stroke="#1c4a72" stroke-width="0.25">Hungary</text>
<ellipse cx="147.50" cy="634.50" rx="1.48" ry="2.12" fill="none" stroke="#1c4a72" stroke-width="1.1"/>
<text x="151.15" y="638.70" font-size="10.0" fill="#1c4a72" textLength="23.74" lengthAdjust="spacingAndGlyphs" stroke="#1c4a72" stroke-width="0.25">Belgium</text>
<ellipse cx="150.50" cy="635.20" rx="1.48" ry="2.12" fill="none" stroke="#1c4a72" stroke-width="1.1"/>
<text x="154.15" y="639.40" font-size="10.0" fill="#1c4a72" textLength="25.21" lengthAdjust="spacingAndGlyphs" stroke="#1c4a72" stroke-width="0.25">Slovenia</text>
<ellipse cx="153.00" cy="637.80" rx="1.48" ry="2.12" fill="none" stroke="#1c4a72" stroke-width="1.1"/>
<text x="156.65" y="642.00" font-size="10.0" fill="#1c4a72" textLength="20.45" lengthAdjust="spacingAndGlyphs" stroke="#1c4a72" stroke-width="0.25">France</text>
<ellipse cx="156.00" cy="639.20" rx="1.48" ry="2.12" fill="none" stroke="#1c4a72" stroke-width="1.1"/>
<text x="159.65" y="643.40" font-size="10.0" fill="#1c4a72" textLength="20.81" lengthAdjust="spacingAndGlyphs" stroke="#1c4a72" stroke-width="0.25">Cyprus</text>
<ellipse cx="158.50" cy="637.20" rx="1.48" ry="2.12" fill="none" stroke="#1c4a72" stroke-width="1.1"/>
<text x="162.15" y="641.40" font-size="10.0" fill="#1c4a72" textLength="16.81" lengthAdjust="spacingAndGlyphs" stroke="#1c4a72" stroke-width="0.25">Spain</text>
<ellipse cx="161.30" cy="637.50" rx="1.48" ry="2.12" fill="none" stroke="#1c4a72" stroke-width="1.1"/>
<text x="164.95" y="641.70" font-size="10.0" fill="#1c4a72" textLength="46.02" lengthAdjust="spacingAndGlyphs" stroke="#1c4a72" stroke-width="0.25">Czech Republic</text>
<ellipse cx="165.00" cy="639.60" rx="1.48" ry="2.12" fill="none" stroke="#1c4a72" stroke-width="1.1"/>
<text x="168.65" y="643.80" font-size="10.0" fill="#1c4a72" textLength="17.53" lengthAdjust="spacingAndGlyphs" stroke="#1c4a72" stroke-width="0.25">Latvia</text>
<ellipse cx="169.00" cy="638.20" rx="1.48" ry="2.12" fill="none" stroke="#1c4a72" stroke-width="1.1"/>
<text x="172.65" y="642.40" font-size="10.0" fill="#1c4a72" textLength="24.47" lengthAdjust="spacingAndGlyphs" stroke="#1c4a72" stroke-width="0.25">Portugal</text>
<ellipse cx="173.00" cy="640.20" rx="1.48" ry="2.12" fill="none" stroke="#1c4a72" stroke-width="1.1"/>
<text x="176.65" y="644.40" font-size="10.0" fill="#1c4a72" textLength="20.09" lengthAdjust="spacingAndGlyphs" stroke="#1c4a72" stroke-width="0.25">Ireland</text>
<ellipse cx="177.00" cy="638.60" rx="1.48" ry="2.12" fill="none" stroke="#1c4a72" stroke-width="1.1"/>
<text x="180.65" y="642.80" font-size="10.0" fill="#1c4a72" textLength="21.92" lengthAdjust="spacingAndGlyphs" stroke="#1c4a72" stroke-width="0.25">Estonia</text>
<ellipse cx="180.00" cy="637.50" rx="1.48" ry="2.12" fill="none" stroke="#1c4a72" stroke-width="1.1"/>
<text x="183.65" y="641.70" font-size="10.0" fill="#1c4a72" textLength="47.12" lengthAdjust="spacingAndGlyphs" stroke="#1c4a72" stroke-width="0.25">Slovak Republic</text>
<ellipse cx="186.00" cy="639.60" rx="1.48" ry="2.12" fill="none" stroke="#1c4a72" stroke-width="1.1"/>
<text x="189.65" y="643.80" font-size="10.0" fill="#1c4a72" textLength="26.67" lengthAdjust="spacingAndGlyphs" stroke="#1c4a72" stroke-width="0.25">Lithuania</text>
<ellipse cx="192.00" cy="638.60" rx="1.48" ry="2.12" fill="none" stroke="#1c4a72" stroke-width="1.1"/>
<text x="195.65" y="642.80" font-size="10.0" fill="#1c4a72" textLength="23.02" lengthAdjust="spacingAndGlyphs" stroke="#1c4a72" stroke-width="0.25">Canada</text>
<ellipse cx="198.00" cy="640.20" rx="1.48" ry="2.12" fill="none" stroke="#1c4a72" stroke-width="1.1"/>
<text x="201.65" y="644.40" font-size="10.0" fill="#1c4a72" textLength="21.18" lengthAdjust="spacingAndGlyphs" stroke="#1c4a72" stroke-width="0.25">Croatia</text>
<ellipse cx="204.00" cy="639.00" rx="1.48" ry="2.12" fill="none" stroke="#1c4a72" stroke-width="1.1"/>
<text x="207.65" y="643.20" font-size="10.0" fill="#1c4a72" textLength="26.30" lengthAdjust="spacingAndGlyphs" stroke="#1c4a72" stroke-width="0.25">Romania</text>
<ellipse cx="209.00" cy="640.40" rx="1.48" ry="2.12" fill="none" stroke="#1c4a72" stroke-width="1.1"/>
<text x="212.65" y="644.60" font-size="10.0" fill="#1c4a72" textLength="26.67" lengthAdjust="spacingAndGlyphs" stroke="#1c4a72" stroke-width="0.25">Lithuania</text>
<ellipse cx="213.90" cy="640.00" rx="1.48" ry="2.12" fill="none" stroke="#1c4a72" stroke-width="1.1"/>
<text x="217.55" y="644.20" font-size="10.0" fill="#1c4a72" textLength="24.11" lengthAdjust="spacingAndGlyphs" stroke="#1c4a72" stroke-width="0.25">Bulgaria</text>
<ellipse cx="246.70" cy="638.40" rx="1.48" ry="2.12" fill="none" stroke="#1c4a72" stroke-width="1.1"/>
<text x="250.35" y="642.60" font-size="10.0" fill="#1c4a72" textLength="26.66" lengthAdjust="spacingAndGlyphs" stroke="#1c4a72" stroke-width="0.25">Denmark</text>
<ellipse cx="264.50" cy="638.00" rx="1.48" ry="2.12" fill="none" stroke="#1c4a72" stroke-width="1.1"/>
<text x="268.15" y="642.20" font-size="10.0" fill="#1c4a72" textLength="21.55" lengthAdjust="spacingAndGlyphs" stroke="#1c4a72" stroke-width="0.25">Finland</text>
<ellipse cx="265.50" cy="639.60" rx="1.48" ry="2.12" fill="none" stroke="#1c4a72" stroke-width="1.1"/>
<text x="269.15" y="643.80" font-size="10.0" fill="#1c4a72" textLength="22.27" lengthAdjust="spacingAndGlyphs" stroke="#1c4a72" stroke-width="0.25">Norway</text>
<ellipse cx="266.50" cy="637.80" rx="1.48" ry="2.12" fill="none" stroke="#1c4a72" stroke-width="1.1"/>
<text x="270.15" y="642.00" font-size="10.0" fill="#1c4a72" textLength="21.19" lengthAdjust="spacingAndGlyphs" stroke="#1c4a72" stroke-width="0.25">Iceland</text>
<ellipse cx="276.50" cy="638.20" rx="1.48" ry="2.12" fill="none" stroke="#1c4a72" stroke-width="1.1"/>
<text x="280.15" y="642.40" font-size="10.0" fill="#1c4a72" textLength="23.75" lengthAdjust="spacingAndGlyphs" stroke="#1c4a72" stroke-width="0.25">Sweden</text>
<line x1="335.20" y1="371.10" x2="650.50" y2="371.10" stroke="#e4eef0" stroke-width="1"/>
<line x1="335.20" y1="462.10" x2="650.50" y2="462.10" stroke="#e4eef0" stroke-width="1"/>
<line x1="335.20" y1="553.00" x2="650.50" y2="553.00" stroke="#e4eef0" stroke-width="1"/>
<line x1="335.20" y1="644.00" x2="650.50" y2="644.00" stroke="#e4eef0" stroke-width="1"/>
<line x1="340.30" y1="617.20" x2="640.70" y2="644.60" stroke="#bdbdbd" stroke-width="1.1"/>
<line x1="334.70" y1="362.90" x2="334.70" y2="653.40" stroke="#3a3a3a" stroke-width="1.3"/>
<line x1="334.20" y1="652.90" x2="650.50" y2="652.90" stroke="#3a3a3a" stroke-width="1.3"/>
<line x1="330.90" y1="371.10" x2="334.70" y2="371.10" stroke="#3a3a3a" stroke-width="1.2"/>
<text transform="translate(327.00,371.10) rotate(-90)" x="-15.25" y="0" font-size="10.0" fill="#111" stroke="#111" stroke-width="0.18" textLength="30.50" lengthAdjust="spacingAndGlyphs">6000</text>
<line x1="330.90" y1="462.10" x2="334.70" y2="462.10" stroke="#3a3a3a" stroke-width="1.2"/>
<text transform="translate(327.00,462.10) rotate(-90)" x="-15.25" y="0" font-size="10.0" fill="#111" stroke="#111" stroke-width="0.18" textLength="30.50" lengthAdjust="spacingAndGlyphs">4000</text>
<line x1="330.90" y1="553.00" x2="334.70" y2="553.00" stroke="#3a3a3a" stroke-width="1.2"/>
<text transform="translate(327.00,553.00) rotate(-90)" x="-15.25" y="0" font-size="10.0" fill="#111" stroke="#111" stroke-width="0.18" textLength="30.50" lengthAdjust="spacingAndGlyphs">2000</text>
<line x1="330.90" y1="644.00" x2="334.70" y2="644.00" stroke="#3a3a3a" stroke-width="1.2"/>
<text transform="translate(327.00,644.00) rotate(-90)" x="-3.81" y="0" font-size="10.0" fill="#111" stroke="#111" stroke-width="0.18" textLength="7.62" lengthAdjust="spacingAndGlyphs">0</text>
<line x1="354.30" y1="652.90" x2="354.30" y2="657.95" stroke="#3a3a3a" stroke-width="1.2"/>
<text x="351.64" y="673.60" font-size="13.34" fill="#111" textLength="5.32" lengthAdjust="spacingAndGlyphs" stroke="#111" stroke-width="0.18">4</text>
<line x1="411.50" y1="652.90" x2="411.50" y2="657.95" stroke="#3a3a3a" stroke-width="1.2"/>
<text x="408.84" y="673.60" font-size="13.34" fill="#111" textLength="5.32" lengthAdjust="spacingAndGlyphs" stroke="#111" stroke-width="0.18">6</text>
<line x1="468.70" y1="652.90" x2="468.70" y2="657.95" stroke="#3a3a3a" stroke-width="1.2"/>
<text x="466.04" y="673.60" font-size="13.34" fill="#111" textLength="5.32" lengthAdjust="spacingAndGlyphs" stroke="#111" stroke-width="0.18">8</text>
<line x1="525.90" y1="652.90" x2="525.90" y2="657.95" stroke="#3a3a3a" stroke-width="1.2"/>
<text x="520.58" y="673.60" font-size="13.34" fill="#111" textLength="10.63" lengthAdjust="spacingAndGlyphs" stroke="#111" stroke-width="0.18">10</text>
<line x1="583.10" y1="652.90" x2="583.10" y2="657.95" stroke="#3a3a3a" stroke-width="1.2"/>
<text x="577.78" y="673.60" font-size="13.34" fill="#111" textLength="10.63" lengthAdjust="spacingAndGlyphs" stroke="#111" stroke-width="0.18">12</text>
<line x1="640.30" y1="652.90" x2="640.30" y2="657.95" stroke="#3a3a3a" stroke-width="1.2"/>
<text x="634.98" y="673.60" font-size="13.34" fill="#111" textLength="10.63" lengthAdjust="spacingAndGlyphs" stroke="#111" stroke-width="0.18">14</text>
<text x="445.00" y="686.10" font-size="12.95" fill="#111" textLength="95.30" lengthAdjust="spacingAndGlyphs" stroke="#111" stroke-width="0.18">avgunemploymentmale</text>
<text x="335.80" y="703.80" font-size="9.84" fill="#111" font-style="italic" textLength="4.02" lengthAdjust="spacingAndGlyphs" stroke="#111" stroke-width="0.18">n</text>
<text x="341.39" y="703.80" font-size="9.84" fill="#111" textLength="4.47" lengthAdjust="spacingAndGlyphs" stroke="#111" stroke-width="0.18">=</text>
<text x="347.43" y="703.80" font-size="9.84" fill="#111" textLength="12.41" lengthAdjust="spacingAndGlyphs" stroke="#111" stroke-width="0.18">682</text>
<text x="368.00" y="703.80" font-size="9.84" fill="#111" textLength="27.06" lengthAdjust="spacingAndGlyphs" stroke="#111" stroke-width="0.18">RMSE =</text>
<text x="400.09" y="703.80" font-size="9.84" fill="#111" textLength="27.51" lengthAdjust="spacingAndGlyphs" stroke="#111" stroke-width="0.18">963.325</text>
<text x="368.70" y="357.70" font-size="15.2" fill="#111" textLength="188.60" lengthAdjust="spacingAndGlyphs">avgcarbo~s = 795.06 - 55.546 avgu~tmale</text>
<text x="571.40" y="357.70" font-size="15.2" fill="#111" font-style="italic" textLength="6.20" lengthAdjust="spacingAndGlyphs">R</text>
<text x="578.11" y="348.63" font-size="8.55" fill="#111" textLength="3.58" lengthAdjust="spacingAndGlyphs" stroke="#111" stroke-width="0.18">2</text>
<text x="583.90" y="357.70" font-size="15.2" fill="#111" textLength="31.10" lengthAdjust="spacingAndGlyphs">= 3.1%</text>
<text x="476.00" y="727.50" font-size="20" fill="#111" textLength="24.00" lengthAdjust="spacingAndGlyphs" stroke="#111" stroke-width="0.3">(d)</text>
<ellipse cx="414.10" cy="393.70" rx="1.68" ry="2.22" fill="none" stroke="#1c4a72" stroke-width="1.1"/>
<text x="418.12" y="397.63" font-size="10.36" fill="#1c4a72" textLength="43.49" lengthAdjust="spacingAndGlyphs" stroke="#1c4a72" stroke-width="0.25">United States</text>
<ellipse cx="366.00" cy="588.70" rx="1.68" ry="2.22" fill="none" stroke="#1c4a72" stroke-width="1.1"/>
<text x="370.02" y="592.63" font-size="10.36" fill="#1c4a72" textLength="19.74" lengthAdjust="spacingAndGlyphs" stroke="#1c4a72" stroke-width="0.25">Japan</text>
<ellipse cx="353.60" cy="619.80" rx="1.68" ry="2.22" fill="none" stroke="#1c4a72" stroke-width="1.1"/>
<text x="357.62" y="623.73" font-size="10.36" fill="#1c4a72" textLength="38.66" lengthAdjust="spacingAndGlyphs" stroke="#1c4a72" stroke-width="0.25">Korea, Rep.</text>
<ellipse cx="348.70" cy="626.00" rx="1.68" ry="2.22" fill="none" stroke="#1c4a72" stroke-width="1.1"/>
<text x="352.72" y="629.93" font-size="10.36" fill="#1c4a72" textLength="22.95" lengthAdjust="spacingAndGlyphs" stroke="#1c4a72" stroke-width="0.25">Mexico</text>
<ellipse cx="371.40" cy="626.50" rx="1.68" ry="2.22" fill="none" stroke="#1c4a72" stroke-width="1.1"/>
<text x="375.42" y="630.43" font-size="10.36" fill="#1c4a72" textLength="28.19" lengthAdjust="spacingAndGlyphs" stroke="#1c4a72" stroke-width="0.25">Australia</text>
<ellipse cx="361.10" cy="634.20" rx="1.68" ry="2.22" fill="none" stroke="#1c4a72" stroke-width="1.1"/>
<text x="365.12" y="638.13" font-size="10.36" fill="#1c4a72" textLength="39.06" lengthAdjust="spacingAndGlyphs" stroke="#1c4a72" stroke-width="0.25">Netherlands</text>
<ellipse cx="340.30" cy="643.80" rx="1.68" ry="2.22" fill="none" stroke="#1c4a72" stroke-width="1.1"/>
<text x="344.32" y="647.73" font-size="10.36" fill="#1c4a72" textLength="40.27" lengthAdjust="spacingAndGlyphs" stroke="#1c4a72" stroke-width="0.25">Luxembourg</text>
<ellipse cx="354.10" cy="643.10" rx="1.68" ry="2.22" fill="none" stroke="#1c4a72" stroke-width="1.1"/>
<text x="358.12" y="647.03" font-size="10.36" fill="#1c4a72" textLength="24.56" lengthAdjust="spacingAndGlyphs" stroke="#1c4a72" stroke-width="0.25">Norway</text>
<ellipse cx="434.70" cy="620.00" rx="1.68" ry="2.22" fill="none" stroke="#1c4a72" stroke-width="1.1"/>
<text x="438.72" y="623.93" font-size="10.36" fill="#1c4a72" textLength="51.55" lengthAdjust="spacingAndGlyphs" stroke="#1c4a72" stroke-width="0.25">United Kingdom</text>
<ellipse cx="464.80" cy="606.90" rx="1.68" ry="2.22" fill="none" stroke="#1c4a72" stroke-width="1.1"/>
<text x="468.82" y="610.83" font-size="10.36" fill="#1c4a72" textLength="29.79" lengthAdjust="spacingAndGlyphs" stroke="#1c4a72" stroke-width="0.25">Germany</text>
<ellipse cx="475.10" cy="625.20" rx="1.68" ry="2.22" fill="none" stroke="#1c4a72" stroke-width="1.1"/>
<text x="479.12" y="629.13" font-size="10.36" fill="#1c4a72" textLength="13.29" lengthAdjust="spacingAndGlyphs" stroke="#1c4a72" stroke-width="0.25">Italy</text>
<ellipse cx="568.10" cy="629.80" rx="1.68" ry="2.22" fill="none" stroke="#1c4a72" stroke-width="1.1"/>
<text x="572.12" y="633.73" font-size="10.36" fill="#1c4a72" textLength="22.56" lengthAdjust="spacingAndGlyphs" stroke="#1c4a72" stroke-width="0.25">Poland</text>
<ellipse cx="498.80" cy="641.00" rx="1.68" ry="2.22" fill="none" stroke="#1c4a72" stroke-width="1.1"/>
<text x="502.82" y="644.93" font-size="10.36" fill="#1c4a72" textLength="17.72" lengthAdjust="spacingAndGlyphs" stroke="#1c4a72" stroke-width="0.25">Israel</text>
<ellipse cx="531.00" cy="641.30" rx="1.68" ry="2.22" fill="none" stroke="#1c4a72" stroke-width="1.1"/>
<text x="535.02" y="645.23" font-size="10.36" fill="#1c4a72" textLength="23.76" lengthAdjust="spacingAndGlyphs" stroke="#1c4a72" stroke-width="0.25">Finland</text>
<ellipse cx="543.80" cy="640.00" rx="1.68" ry="2.22" fill="none" stroke="#1c4a72" stroke-width="1.1"/>
<text x="547.82" y="643.93" font-size="10.36" fill="#1c4a72" textLength="23.76" lengthAdjust="spacingAndGlyphs" stroke="#1c4a72" stroke-width="0.25">Greece</text>
<ellipse cx="588.10" cy="643.60" rx="1.68" ry="2.22" fill="none" stroke="#1c4a72" stroke-width="1.1"/>
<text x="592.12" y="647.53" font-size="10.36" fill="#1c4a72" textLength="23.35" lengthAdjust="spacingAndGlyphs" stroke="#1c4a72" stroke-width="0.25">Croatia</text>
<ellipse cx="592.40" cy="641.30" rx="1.68" ry="2.22" fill="none" stroke="#1c4a72" stroke-width="1.1"/>
<text x="596.42" y="645.23" font-size="10.36" fill="#1c4a72" textLength="26.58" lengthAdjust="spacingAndGlyphs" stroke="#1c4a72" stroke-width="0.25">Bulgaria</text>
<ellipse cx="623.30" cy="643.30" rx="1.68" ry="2.22" fill="none" stroke="#1c4a72" stroke-width="1.1"/>
<text x="627.32" y="647.23" font-size="10.36" fill="#1c4a72" textLength="29.41" lengthAdjust="spacingAndGlyphs" stroke="#1c4a72" stroke-width="0.25">Lithuania</text>
<ellipse cx="628.50" cy="641.60" rx="1.68" ry="2.22" fill="none" stroke="#1c4a72" stroke-width="1.1"/>
<text x="632.52" y="645.53" font-size="10.36" fill="#1c4a72" textLength="51.95" lengthAdjust="spacingAndGlyphs" stroke="#1c4a72" stroke-width="0.25">Slovak Republic</text>
<ellipse cx="389.60" cy="641.50" rx="1.68" ry="2.22" fill="none" stroke="#1c4a72" stroke-width="1.1"/>
<text x="393.62" y="645.43" font-size="10.36" fill="#1c4a72" textLength="42.69" lengthAdjust="spacingAndGlyphs" stroke="#1c4a72" stroke-width="0.25">New Zealand</text>
<ellipse cx="392.80" cy="638.50" rx="1.68" ry="2.22" fill="none" stroke="#1c4a72" stroke-width="1.1"/>
<text x="396.82" y="642.43" font-size="10.36" fill="#1c4a72" textLength="50.74" lengthAdjust="spacingAndGlyphs" stroke="#1c4a72" stroke-width="0.25">Czech Republic</text>
<ellipse cx="397.00" cy="643.00" rx="1.68" ry="2.22" fill="none" stroke="#1c4a72" stroke-width="1.1"/>
<text x="401.02" y="646.93" font-size="10.36" fill="#1c4a72" textLength="37.45" lengthAdjust="spacingAndGlyphs" stroke="#1c4a72" stroke-width="0.25">Switzerland</text>
<ellipse cx="402.00" cy="640.50" rx="1.68" ry="2.22" fill="none" stroke="#1c4a72" stroke-width="1.1"/>
<text x="406.02" y="644.43" font-size="10.36" fill="#1c4a72" textLength="29.39" lengthAdjust="spacingAndGlyphs" stroke="#1c4a72" stroke-width="0.25">Denmark</text>
<ellipse cx="408.00" cy="642.50" rx="1.68" ry="2.22" fill="none" stroke="#1c4a72" stroke-width="1.1"/>
<text x="412.02" y="646.43" font-size="10.36" fill="#1c4a72" textLength="22.55" lengthAdjust="spacingAndGlyphs" stroke="#1c4a72" stroke-width="0.25">Austria</text>
<ellipse cx="413.20" cy="641.00" rx="1.68" ry="2.22" fill="none" stroke="#1c4a72" stroke-width="1.1"/>
<text x="417.22" y="644.93" font-size="10.36" fill="#1c4a72" textLength="26.18" lengthAdjust="spacingAndGlyphs" stroke="#1c4a72" stroke-width="0.25">Sweden</text>
<ellipse cx="418.00" cy="643.00" rx="1.68" ry="2.22" fill="none" stroke="#1c4a72" stroke-width="1.1"/>
<text x="422.02" y="646.93" font-size="10.36" fill="#1c4a72" textLength="27.79" lengthAdjust="spacingAndGlyphs" stroke="#1c4a72" stroke-width="0.25">Slovenia</text>
<ellipse cx="424.00" cy="640.50" rx="1.68" ry="2.22" fill="none" stroke="#1c4a72" stroke-width="1.1"/>
<text x="428.02" y="644.43" font-size="10.36" fill="#1c4a72" textLength="22.95" lengthAdjust="spacingAndGlyphs" stroke="#1c4a72" stroke-width="0.25">Cyprus</text>
<ellipse cx="430.00" cy="642.50" rx="1.68" ry="2.22" fill="none" stroke="#1c4a72" stroke-width="1.1"/>
<text x="434.02" y="646.43" font-size="10.36" fill="#1c4a72" textLength="23.36" lengthAdjust="spacingAndGlyphs" stroke="#1c4a72" stroke-width="0.25">Iceland</text>
<ellipse cx="436.00" cy="641.00" rx="1.68" ry="2.22" fill="none" stroke="#1c4a72" stroke-width="1.1"/>
<text x="440.02" y="644.93" font-size="10.36" fill="#1c4a72" textLength="25.38" lengthAdjust="spacingAndGlyphs" stroke="#1c4a72" stroke-width="0.25">Canada</text>
<ellipse cx="442.00" cy="642.50" rx="1.68" ry="2.22" fill="none" stroke="#1c4a72" stroke-width="1.1"/>
<text x="446.02" y="646.43" font-size="10.36" fill="#1c4a72" textLength="28.99" lengthAdjust="spacingAndGlyphs" stroke="#1c4a72" stroke-width="0.25">Romania</text>
<ellipse cx="449.60" cy="637.80" rx="1.68" ry="2.22" fill="none" stroke="#1c4a72" stroke-width="1.1"/>
<text x="453.62" y="641.73" font-size="10.36" fill="#1c4a72" textLength="26.17" lengthAdjust="spacingAndGlyphs" stroke="#1c4a72" stroke-width="0.25">Belgium</text>
<ellipse cx="455.80" cy="641.00" rx="1.68" ry="2.22" fill="none" stroke="#1c4a72" stroke-width="1.1"/>
<text x="459.82" y="644.93" font-size="10.36" fill="#1c4a72" textLength="24.16" lengthAdjust="spacingAndGlyphs" stroke="#1c4a72" stroke-width="0.25">Estonia</text>
<ellipse cx="462.00" cy="642.00" rx="1.68" ry="2.22" fill="none" stroke="#1c4a72" stroke-width="1.1"/>
<text x="466.02" y="645.93" font-size="10.36" fill="#1c4a72" textLength="22.55" lengthAdjust="spacingAndGlyphs" stroke="#1c4a72" stroke-width="0.25">France</text>
<ellipse cx="468.00" cy="641.00" rx="1.68" ry="2.22" fill="none" stroke="#1c4a72" stroke-width="1.1"/>
<text x="472.02" y="644.93" font-size="10.36" fill="#1c4a72" textLength="26.98" lengthAdjust="spacingAndGlyphs" stroke="#1c4a72" stroke-width="0.25">Portugal</text>
<ellipse cx="474.00" cy="642.00" rx="1.68" ry="2.22" fill="none" stroke="#1c4a72" stroke-width="1.1"/>
<text x="478.02" y="645.93" font-size="10.36" fill="#1c4a72" textLength="27.38" lengthAdjust="spacingAndGlyphs" stroke="#1c4a72" stroke-width="0.25">Hungary</text>
<line x1="171.00" y1="772.10" x2="459.70" y2="772.10" stroke="#e4eef0" stroke-width="1"/>
<line x1="171.00" y1="840.10" x2="459.70" y2="840.10" stroke="#e4eef0" stroke-width="1"/>
<line x1="171.00" y1="908.10" x2="459.70" y2="908.10" stroke="#e4eef0" stroke-width="1"/>
<line x1="171.00" y1="976.10" x2="459.70" y2="976.10" stroke="#e4eef0" stroke-width="1"/>
<line x1="220.70" y1="953.90" x2="436.10" y2="983.10" stroke="#bdbdbd" stroke-width="1.1"/>
<line x1="170.50" y1="765.10" x2="170.50" y2="990.30" stroke="#7c7c7c" stroke-width="1.3"/>
<line x1="170.00" y1="989.80" x2="459.70" y2="989.80" stroke="#7c7c7c" stroke-width="1.3"/>
<line x1="167.02" y1="772.10" x2="170.50" y2="772.10" stroke="#7c7c7c" stroke-width="1.2"/>
<text transform="translate(164.70,772.10) rotate(-90)" x="-12.25" y="0" font-size="10.0" fill="#111" stroke="#111" stroke-width="0.18" textLength="24.50" lengthAdjust="spacingAndGlyphs">6000</text>
<line x1="167.02" y1="840.10" x2="170.50" y2="840.10" stroke="#7c7c7c" stroke-width="1.2"/>
<text transform="translate(164.70,840.10) rotate(-90)" x="-12.25" y="0" font-size="10.0" fill="#111" stroke="#111" stroke-width="0.18" textLength="24.50" lengthAdjust="spacingAndGlyphs">4000</text>
<line x1="167.02" y1="908.10" x2="170.50" y2="908.10" stroke="#7c7c7c" stroke-width="1.2"/>
<text transform="translate(164.70,908.10) rotate(-90)" x="-12.25" y="0" font-size="10.0" fill="#111" stroke="#111" stroke-width="0.18" textLength="24.50" lengthAdjust="spacingAndGlyphs">2000</text>
<line x1="167.02" y1="976.10" x2="170.50" y2="976.10" stroke="#7c7c7c" stroke-width="1.2"/>
<text transform="translate(164.70,976.10) rotate(-90)" x="-3.06" y="0" font-size="10.0" fill="#111" stroke="#111" stroke-width="0.18" textLength="6.12" lengthAdjust="spacingAndGlyphs">0</text>
<line x1="175.90" y1="989.80" x2="175.90" y2="993.58" stroke="#7c7c7c" stroke-width="1.2"/>
<text x="173.47" y="1005.90" font-size="9.97" fill="#111" textLength="4.87" lengthAdjust="spacingAndGlyphs" stroke="#111" stroke-width="0.18">0</text>
<line x1="245.80" y1="989.80" x2="245.80" y2="993.58" stroke="#7c7c7c" stroke-width="1.2"/>
<text x="243.37" y="1005.90" font-size="9.97" fill="#111" textLength="4.87" lengthAdjust="spacingAndGlyphs" stroke="#111" stroke-width="0.18">5</text>
<line x1="315.60" y1="989.80" x2="315.60" y2="993.58" stroke="#7c7c7c" stroke-width="1.2"/>
<text x="310.73" y="1005.90" font-size="9.97" fill="#111" textLength="9.74" lengthAdjust="spacingAndGlyphs" stroke="#111" stroke-width="0.18">10</text>
<line x1="385.40" y1="989.80" x2="385.40" y2="993.58" stroke="#7c7c7c" stroke-width="1.2"/>
<text x="380.53" y="1005.90" font-size="9.97" fill="#111" textLength="9.74" lengthAdjust="spacingAndGlyphs" stroke="#111" stroke-width="0.18">15</text>
<line x1="455.20" y1="989.80" x2="455.20" y2="993.58" stroke="#7c7c7c" stroke-width="1.2"/>
<text x="450.33" y="1005.90" font-size="9.97" fill="#111" textLength="9.74" lengthAdjust="spacingAndGlyphs" stroke="#111" stroke-width="0.18">20</text>
<text x="268.40" y="1016.40" font-size="9.68" fill="#111" textLength="94.60" lengthAdjust="spacingAndGlyphs" stroke="#111" stroke-width="0.18">avgunemploymentfemale</text>
<text x="172.80" y="1029.30" font-size="7.36" fill="#111" font-style="italic" textLength="3.69" lengthAdjust="spacingAndGlyphs" stroke="#111" stroke-width="0.18">n</text>
<text x="177.92" y="1029.30" font-size="7.36" fill="#111" textLength="4.10" lengthAdjust="spacingAndGlyphs" stroke="#111" stroke-width="0.18">=</text>
<text x="183.45" y="1029.30" font-size="7.36" fill="#111" textLength="11.37" lengthAdjust="spacingAndGlyphs" stroke="#111" stroke-width="0.18">682</text>
<text x="202.29" y="1029.30" font-size="7.36" fill="#111" textLength="24.78" lengthAdjust="spacingAndGlyphs" stroke="#111" stroke-width="0.18">RMSE =</text>
<text x="231.68" y="1029.30" font-size="7.36" fill="#111" textLength="26.12" lengthAdjust="spacingAndGlyphs" stroke="#111" stroke-width="0.18">957.2873</text>
<text x="200.40" y="761.50" font-size="10.16" fill="#111" textLength="175.20" lengthAdjust="spacingAndGlyphs" stroke="#111" stroke-width="0.18">avgcarbo~s = 831.75 - 55.881 avgu~emale</text>
<text x="389.20" y="761.50" font-size="10.16" fill="#111" font-style="italic" textLength="6.20" lengthAdjust="spacingAndGlyphs" stroke="#111" stroke-width="0.18">R</text>
<text x="395.34" y="754.72" font-size="6.39" fill="#111" textLength="3.28" lengthAdjust="spacingAndGlyphs" stroke="#111" stroke-width="0.18">2</text>
<text x="401.70" y="761.50" font-size="10.16" fill="#111" textLength="27.60" lengthAdjust="spacingAndGlyphs" stroke="#111" stroke-width="0.18">= 4.3%</text>
<text x="304.10" y="1050.60" font-size="19" fill="#111" textLength="24.40" lengthAdjust="spacingAndGlyphs" stroke="#111" stroke-width="0.3">(d)</text>
<ellipse cx="255.80" cy="788.50" rx="1.50" ry="1.53" fill="none" stroke="#1c4a72" stroke-width="1.1"/>
<text x="259.49" y="791.92" font-size="7.74" fill="#1c4a72" textLength="39.84" lengthAdjust="spacingAndGlyphs" stroke="#1c4a72" stroke-width="0.25">United States</text>
<ellipse cx="232.00" cy="934.50" rx="1.50" ry="1.53" fill="none" stroke="#1c4a72" stroke-width="1.1"/>
<text x="235.69" y="937.92" font-size="7.74" fill="#1c4a72" textLength="18.08" lengthAdjust="spacingAndGlyphs" stroke="#1c4a72" stroke-width="0.25">Japan</text>
<ellipse cx="285.40" cy="948.00" rx="1.50" ry="1.53" fill="none" stroke="#1c4a72" stroke-width="1.1"/>
<text x="289.09" y="951.42" font-size="7.74" fill="#1c4a72" textLength="27.29" lengthAdjust="spacingAndGlyphs" stroke="#1c4a72" stroke-width="0.25">Germany</text>
<ellipse cx="220.30" cy="957.40" rx="1.50" ry="1.53" fill="none" stroke="#1c4a72" stroke-width="1.1"/>
<text x="223.99" y="960.82" font-size="7.74" fill="#1c4a72" textLength="35.41" lengthAdjust="spacingAndGlyphs" stroke="#1c4a72" stroke-width="0.25">Korea, Rep.</text>
<ellipse cx="253.00" cy="957.40" rx="1.50" ry="1.53" fill="none" stroke="#1c4a72" stroke-width="1.1"/>
<text x="256.69" y="960.82" font-size="7.74" fill="#1c4a72" textLength="47.21" lengthAdjust="spacingAndGlyphs" stroke="#1c4a72" stroke-width="0.25">United Kingdom</text>
<ellipse cx="242.20" cy="962.50" rx="1.50" ry="1.53" fill="none" stroke="#1c4a72" stroke-width="1.1"/>
<text x="245.89" y="965.92" font-size="7.74" fill="#1c4a72" textLength="21.02" lengthAdjust="spacingAndGlyphs" stroke="#1c4a72" stroke-width="0.25">Mexico</text>
<ellipse cx="243.50" cy="964.00" rx="1.50" ry="1.53" fill="none" stroke="#1c4a72" stroke-width="1.1"/>
<text x="247.19" y="967.42" font-size="7.74" fill="#1c4a72" textLength="25.82" lengthAdjust="spacingAndGlyphs" stroke="#1c4a72" stroke-width="0.25">Australia</text>
<ellipse cx="250.00" cy="968.40" rx="1.50" ry="1.53" fill="none" stroke="#1c4a72" stroke-width="1.1"/>
<text x="253.69" y="971.82" font-size="7.74" fill="#1c4a72" textLength="35.78" lengthAdjust="spacingAndGlyphs" stroke="#1c4a72" stroke-width="0.25">Netherlands</text>
<ellipse cx="227.00" cy="974.40" rx="1.50" ry="1.53" fill="none" stroke="#1c4a72" stroke-width="1.1"/>
<text x="230.69" y="977.82" font-size="7.74" fill="#1c4a72" textLength="22.49" lengthAdjust="spacingAndGlyphs" stroke="#1c4a72" stroke-width="0.25">Norway</text>
<ellipse cx="348.10" cy="961.50" rx="1.50" ry="1.53" fill="none" stroke="#1c4a72" stroke-width="1.1"/>
<text x="351.79" y="964.92" font-size="7.74" fill="#1c4a72" textLength="12.17" lengthAdjust="spacingAndGlyphs" stroke="#1c4a72" stroke-width="0.25">Italy</text>
<ellipse cx="361.00" cy="965.20" rx="1.50" ry="1.53" fill="none" stroke="#1c4a72" stroke-width="1.1"/>
<text x="364.69" y="968.62" font-size="7.74" fill="#1c4a72" textLength="20.66" lengthAdjust="spacingAndGlyphs" stroke="#1c4a72" stroke-width="0.25">Poland</text>
<ellipse cx="371.70" cy="975.40" rx="1.50" ry="1.53" fill="none" stroke="#1c4a72" stroke-width="1.1"/>
<text x="375.39" y="978.82" font-size="7.74" fill="#1c4a72" textLength="21.39" lengthAdjust="spacingAndGlyphs" stroke="#1c4a72" stroke-width="0.25">Croatia</text>
<ellipse cx="380.70" cy="973.90" rx="1.50" ry="1.53" fill="none" stroke="#1c4a72" stroke-width="1.1"/>
<text x="384.39" y="977.32" font-size="7.74" fill="#1c4a72" textLength="47.58" lengthAdjust="spacingAndGlyphs" stroke="#1c4a72" stroke-width="0.25">Slovak Republic</text>
<ellipse cx="436.10" cy="972.80" rx="1.50" ry="1.53" fill="none" stroke="#1c4a72" stroke-width="1.1"/>
<text x="439.79" y="976.22" font-size="7.74" fill="#1c4a72" textLength="21.76" lengthAdjust="spacingAndGlyphs" stroke="#1c4a72" stroke-width="0.25">Greece</text>
<ellipse cx="246.80" cy="973.50" rx="1.50" ry="1.53" fill="none" stroke="#1c4a72" stroke-width="1.1"/>
<text x="250.49" y="976.92" font-size="7.74" fill="#1c4a72" textLength="36.89" lengthAdjust="spacingAndGlyphs" stroke="#1c4a72" stroke-width="0.25">Luxembourg</text>
<ellipse cx="254.70" cy="973.00" rx="1.50" ry="1.53" fill="none" stroke="#1c4a72" stroke-width="1.1"/>
<text x="258.39" y="976.42" font-size="7.74" fill="#1c4a72" textLength="16.23" lengthAdjust="spacingAndGlyphs" stroke="#1c4a72" stroke-width="0.25">Israel</text>
<ellipse cx="257.00" cy="975.50" rx="1.50" ry="1.53" fill="none" stroke="#1c4a72" stroke-width="1.1"/>
<text x="260.69" y="978.92" font-size="7.74" fill="#1c4a72" textLength="34.30" lengthAdjust="spacingAndGlyphs" stroke="#1c4a72" stroke-width="0.25">Switzerland</text>
<ellipse cx="260.00" cy="970.50" rx="1.50" ry="1.53" fill="none" stroke="#1c4a72" stroke-width="1.1"/>
<text x="263.69" y="973.92" font-size="7.74" fill="#1c4a72" textLength="20.65" lengthAdjust="spacingAndGlyphs" stroke="#1c4a72" stroke-width="0.25">Austria</text>
<ellipse cx="263.00" cy="974.80" rx="1.50" ry="1.53" fill="none" stroke="#1c4a72" stroke-width="1.1"/>
<text x="266.69" y="978.22" font-size="7.74" fill="#1c4a72" textLength="21.40" lengthAdjust="spacingAndGlyphs" stroke="#1c4a72" stroke-width="0.25">Iceland</text>
<ellipse cx="267.00" cy="972.50" rx="1.50" ry="1.53" fill="none" stroke="#1c4a72" stroke-width="1.1"/>
<text x="270.69" y="975.92" font-size="7.74" fill="#1c4a72" textLength="26.92" lengthAdjust="spacingAndGlyphs" stroke="#1c4a72" stroke-width="0.25">Denmark</text>
<ellipse cx="271.00" cy="975.20" rx="1.50" ry="1.53" fill="none" stroke="#1c4a72" stroke-width="1.1"/>
<text x="274.69" y="978.62" font-size="7.74" fill="#1c4a72" textLength="46.47" lengthAdjust="spacingAndGlyphs" stroke="#1c4a72" stroke-width="0.25">Czech Republic</text>
<ellipse cx="275.00" cy="973.00" rx="1.50" ry="1.53" fill="none" stroke="#1c4a72" stroke-width="1.1"/>
<text x="278.69" y="976.42" font-size="7.74" fill="#1c4a72" textLength="23.98" lengthAdjust="spacingAndGlyphs" stroke="#1c4a72" stroke-width="0.25">Sweden</text>
<ellipse cx="279.00" cy="975.50" rx="1.50" ry="1.53" fill="none" stroke="#1c4a72" stroke-width="1.1"/>
<text x="282.69" y="978.92" font-size="7.74" fill="#1c4a72" textLength="21.02" lengthAdjust="spacingAndGlyphs" stroke="#1c4a72" stroke-width="0.25">Cyprus</text>
<ellipse cx="283.00" cy="972.80" rx="1.50" ry="1.53" fill="none" stroke="#1c4a72" stroke-width="1.1"/>
<text x="286.69" y="976.22" font-size="7.74" fill="#1c4a72" textLength="25.45" lengthAdjust="spacingAndGlyphs" stroke="#1c4a72" stroke-width="0.25">Slovenia</text>
<ellipse cx="287.00" cy="975.00" rx="1.50" ry="1.53" fill="none" stroke="#1c4a72" stroke-width="1.1"/>
<text x="290.69" y="978.42" font-size="7.74" fill="#1c4a72" textLength="20.65" lengthAdjust="spacingAndGlyphs" stroke="#1c4a72" stroke-width="0.25">France</text>
<ellipse cx="292.00" cy="973.50" rx="1.50" ry="1.53" fill="none" stroke="#1c4a72" stroke-width="1.1"/>
<text x="295.69" y="976.92" font-size="7.74" fill="#1c4a72" textLength="24.35" lengthAdjust="spacingAndGlyphs" stroke="#1c4a72" stroke-width="0.25">Bulgaria</text>
<ellipse cx="299.30" cy="970.50" rx="1.50" ry="1.53" fill="none" stroke="#1c4a72" stroke-width="1.1"/>
<text x="302.99" y="973.92" font-size="7.74" fill="#1c4a72" textLength="23.97" lengthAdjust="spacingAndGlyphs" stroke="#1c4a72" stroke-width="0.25">Belgium</text>
<ellipse cx="305.00" cy="974.50" rx="1.50" ry="1.53" fill="none" stroke="#1c4a72" stroke-width="1.1"/>
<text x="308.69" y="977.92" font-size="7.74" fill="#1c4a72" textLength="22.13" lengthAdjust="spacingAndGlyphs" stroke="#1c4a72" stroke-width="0.25">Estonia</text>
<ellipse cx="313.80" cy="972.00" rx="1.50" ry="1.53" fill="none" stroke="#1c4a72" stroke-width="1.1"/>
<text x="317.49" y="975.42" font-size="7.74" fill="#1c4a72" textLength="25.08" lengthAdjust="spacingAndGlyphs" stroke="#1c4a72" stroke-width="0.25">Hungary</text>
<ellipse cx="320.00" cy="975.00" rx="1.50" ry="1.53" fill="none" stroke="#1c4a72" stroke-width="1.1"/>
<text x="323.69" y="978.42" font-size="7.74" fill="#1c4a72" textLength="17.71" lengthAdjust="spacingAndGlyphs" stroke="#1c4a72" stroke-width="0.25">Latvia</text>
<ellipse cx="327.00" cy="973.50" rx="1.50" ry="1.53" fill="none" stroke="#1c4a72" stroke-width="1.1"/>
<text x="330.69" y="976.92" font-size="7.74" fill="#1c4a72" textLength="24.71" lengthAdjust="spacingAndGlyphs" stroke="#1c4a72" stroke-width="0.25">Portugal</text>
<ellipse cx="334.80" cy="972.50" rx="1.50" ry="1.53" fill="none" stroke="#1c4a72" stroke-width="1.1"/>
<text x="338.49" y="975.92" font-size="7.74" fill="#1c4a72" textLength="16.97" lengthAdjust="spacingAndGlyphs" stroke="#1c4a72" stroke-width="0.25">Spain</text>
<ellipse cx="340.00" cy="975.00" rx="1.50" ry="1.53" fill="none" stroke="#1c4a72" stroke-width="1.1"/>
<text x="343.69" y="978.42" font-size="7.74" fill="#1c4a72" textLength="26.93" lengthAdjust="spacingAndGlyphs" stroke="#1c4a72" stroke-width="0.25">Lithuania</text>
</svg>
</body></html>
